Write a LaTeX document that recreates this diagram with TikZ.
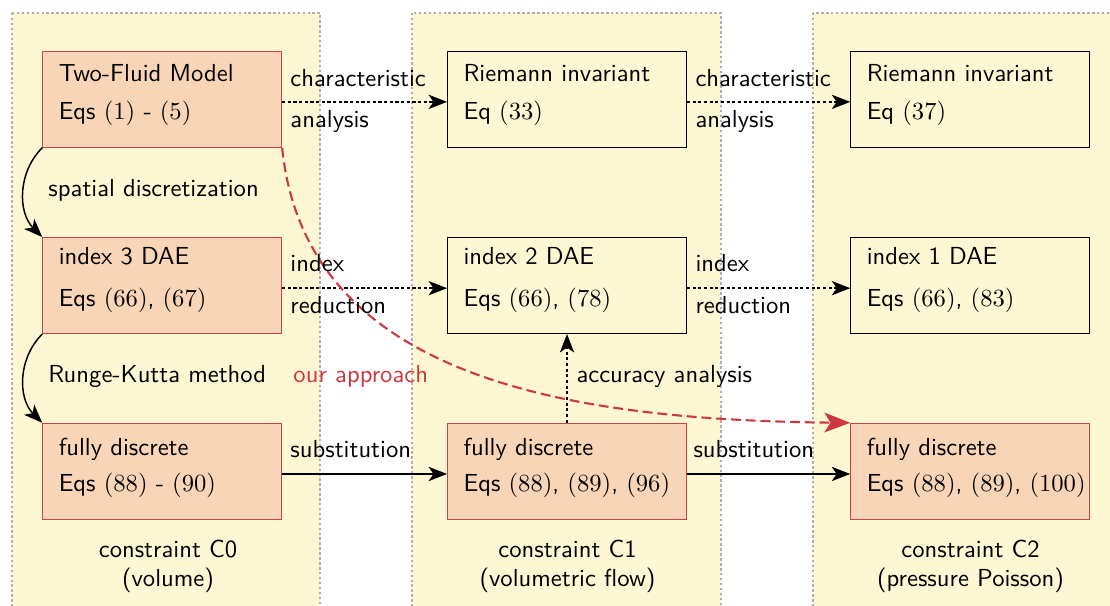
\documentclass[tikz,border=0pt]{standalone}
\usetikzlibrary{arrows.meta}
\definecolor{panelfill}{RGB}{254,247,212}
\definecolor{panelline}{RGB}{175,175,175}
\definecolor{boxfill}{RGB}{247,213,182}
\definecolor{boxred}{RGB}{208,64,72}
\definecolor{apred}{RGB}{205,55,65}
\newcommand\bxs[1]{\rule[-#1]{0pt}{#1}}
\begin{document}
\begin{tikzpicture}[x=0.406pt,y=-0.406pt,font=\sffamily,
  panel/.style={fill=panelfill,draw=panelline,line width=0.5pt,dash pattern=on 1pt off 1pt},
  basebox/.style={minimum width=97.0pt,minimum height=39.0pt,text width=84.0pt,inner xsep=6.5pt,inner ysep=0pt,align=left},
  redbox/.style={basebox,draw=boxred,fill=boxfill},
  blackbox/.style={basebox,draw=black,fill=panelfill},
  arr/.style={line width=0.6pt,-{Stealth[length=7.5pt,width=5.8pt,inset=2pt]}},
  dotarr/.style={arr,dash pattern=on 1.3pt off 1pt},
  redarr/.style={draw=apred,line width=0.85pt,dash pattern=on 4pt off 2pt,-{Stealth[length=10.5pt,width=8pt,inset=2.5pt]}},
  lbl/.style={anchor=base west,inner sep=0pt},
  plabel/.style={anchor=base,inner sep=0pt}]
\clip (0,0) rectangle (1110,605);
% panels
\path[panel] (12,13) rectangle (320,620);
\path[panel] (412,13) rectangle (721,620);
\path[panel] (813,13) rectangle (1130,620);
% boxes
\node[redbox] (tf) at (162.2,99.2) {Two-Fluid Model\\[3.63pt]Eqs $(1)$ - $(5)$\bxs{5.93pt}};
\node[blackbox] (r1) at (567,99.2) {Riemann invariant\\[3.63pt]Eq $(33)$\bxs{5.93pt}};
\node[blackbox] (r2) at (970.2,99.2) {Riemann invariant\\[3.63pt]Eq $(37)$\bxs{5.93pt}};
\node[redbox] (i3) at (162.2,285.5) {index 3 DAE\\[5.05pt]Eqs $(66)$, $(67)$\bxs{7.35pt}};
\node[blackbox] (i2) at (567,285.5) {index 2 DAE\\[5.05pt]Eqs $(66)$, $(78)$\bxs{7.35pt}};
\node[blackbox] (i1) at (970.2,285.5) {index 1 DAE\\[5.05pt]Eqs $(66)$, $(83)$\bxs{7.35pt}};
\node[redbox] (f0) at (162.2,471.3) {fully discrete\\[2.62pt]Eqs $(88)$ - $(90)$\bxs{4.92pt}};
\node[redbox] (f1) at (567,471.3) {fully discrete\\[2.62pt]\mbox{Eqs $(88)$, $(89)$, $(96)$}\bxs{4.92pt}};
\node[redbox] (f2) at (970.2,471.3) {fully discrete\\[2.62pt]\mbox{Eqs $(88)$, $(89)$, $(100)$}\bxs{4.92pt}};
% panel labels
\node[plabel] (c0) at (168,557) {\begin{tabular}[t]{@{}c@{}}constraint C0\\(volume)\end{tabular}};
\node[plabel] (c1) at (567.5,557) {\begin{tabular}[t]{@{}c@{}}constraint C1\\(volumetric flow)\end{tabular}};
\node[plabel] (c2) at (970.5,557) {\begin{tabular}[t]{@{}c@{}}constraint C2\\(pressure Poisson)\end{tabular}};
% connectors
\draw[dotarr] ([yshift=-1.08pt]tf.east) -- ([yshift=-1.08pt]r1.west);
\draw[dotarr] ([yshift=-1.08pt]r1.east) -- ([yshift=-1.08pt]r2.west);
\draw[dotarr] ([yshift=-1.08pt]i3.east) -- ([yshift=-1.08pt]i2.west);
\draw[dotarr] ([yshift=-1.08pt]i2.east) -- ([yshift=-1.08pt]i1.west);
\draw[arr] ([yshift=-1.08pt]f0.east) -- ([yshift=-1.08pt]f1.west);
\draw[arr] ([yshift=-1.08pt]f1.east) -- ([yshift=-1.08pt]f2.west);
\draw[dotarr] (f1.north) -- (i2.south);
\draw[arr] (tf.south west) to[bend right=45] (i3.north west);
\draw[arr] (i3.south west) to[bend right=45] (f0.north west);
\draw[redarr] (tf.south east) .. controls (305,375) and (560,420) .. (f2.north west);
% connector labels
\node[lbl] (l1) at (290,86) {characteristic};
\node[lbl] (l2) at (290,127) {analysis};
\node[lbl] (l3) at (695,86) {characteristic};
\node[lbl] (l4) at (695,127) {analysis};
\node[lbl] (l5) at (290,271) {index};
\node[lbl] (l6) at (290,313) {reduction};
\node[lbl] (l7) at (695,271) {index};
\node[lbl] (l8) at (695,313) {reduction};
\node[lbl] (l9) at (290,457) {substitution};
\node[lbl] (l10) at (693,457) {substitution};
\node[lbl] (l11) at (48,196) {spatial discretization};
\node[lbl] (l12) at (48,382) {Runge-Kutta method};
\node[lbl,text=apred] (l13) at (293,382) {our approach};
\node[lbl] (l14) at (576,382) {accuracy analysis};
\end{tikzpicture}
\end{document}
